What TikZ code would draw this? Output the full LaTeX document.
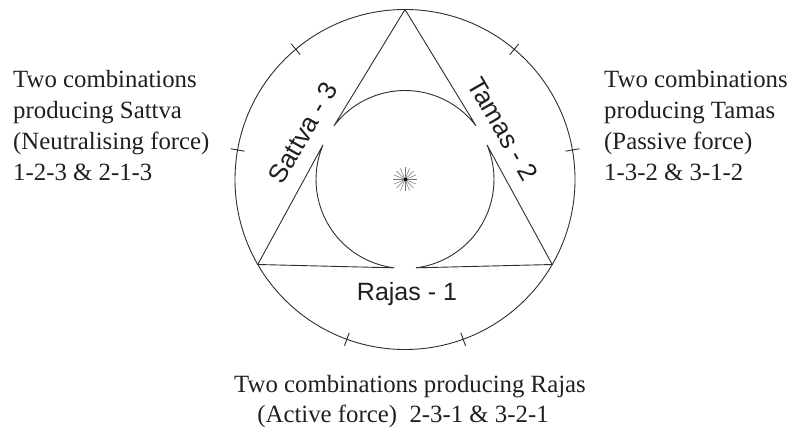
\documentclass[tikz,border=0pt]{standalone}
\usepackage{fontspec}
\setmainfont{Liberation Serif}
\setsansfont{Liberation Sans}
\begin{document}
\begin{tikzpicture}[x=1pt,y=1pt,
  ln/.style={draw=black!82,line width=0.9pt},
  tickline/.style={draw=black!82,line width=0.9pt},
  guna/.style={font=\sffamily\fontsize{26}{30}\selectfont,text=black!88,inner sep=0pt},
  captxt/.style={font=\fontsize{24.8}{30}\selectfont,text=black!88,inner sep=0pt},
  ray/.style={draw=black!55,line width=0.5pt}]
\useasboundingbox (0,-435) rectangle (794,0);
\coordinate (C) at (405,-179.5);
\begin{scope}[shift={(C)}]
  \draw[ln] (0,0) circle[radius=170];
  % three curved pieces: vertex -> cusp -> inner arc -> cusp -> vertex
  \draw[ln,line join=miter] (90:170) -- (143:89) arc[start angle=143,end angle=37,radius=89] -- cycle;
  \draw[ln,line join=miter] (210:170) -- (157:89) arc[start angle=157,end angle=263,radius=89] -- cycle;
  \draw[ln,line join=miter] (330:170) -- (23:89) arc[start angle=23,end angle=-83,radius=89] -- cycle;
  % ticks
  \foreach \a in {10,50,130,170,250,290} \draw[tickline] (\a:163) -- (\a:177);
  % star
  \foreach \a in {0,22.5,...,337.5} \draw[ray] (0,0) -- (\a:12);
  \fill[black] (-1.5,-1.5) rectangle (1.5,1.5);
\end{scope}
\node[guna,rotate=60] (sattva) at (303,-133) {Sattva - 3};
\node[guna,rotate=-60] (tamas) at (503,-129) {Tamas - 2};
\node[guna,font=\sffamily\fontsize{25}{30}\selectfont] (rajas) at (407,-294) {Rajas - 1};
% left text
\node[captxt,anchor=base west] (l1) at (13,-88) {Two combinations};
\node[captxt,anchor=base west] (l2) at (13,-119) {producing Sattva};
\node[captxt,anchor=base west] (l3) at (13,-150) {(Neutralising force)};
\node[captxt,anchor=base west] (l4) at (13,-181) {1-2-3 \& 2-1-3};
% right text
\node[captxt,anchor=base west] (r1) at (604,-88) {Two combinations};
\node[captxt,anchor=base west] (r2) at (604,-119) {producing Tamas};
\node[captxt,anchor=base west] (r3) at (604,-150) {(Passive force)};
\node[captxt,anchor=base west] (r4) at (604,-181) {1-3-2 \& 3-1-2};
% bottom text
\node[captxt,anchor=base] (b1) at (410,-392) {Two combinations producing Rajas};
\node[captxt,anchor=base] (b2) at (403,-422) {(Active force)\ \ 2-3-1 \& 3-2-1};
\end{tikzpicture}
\end{document}
